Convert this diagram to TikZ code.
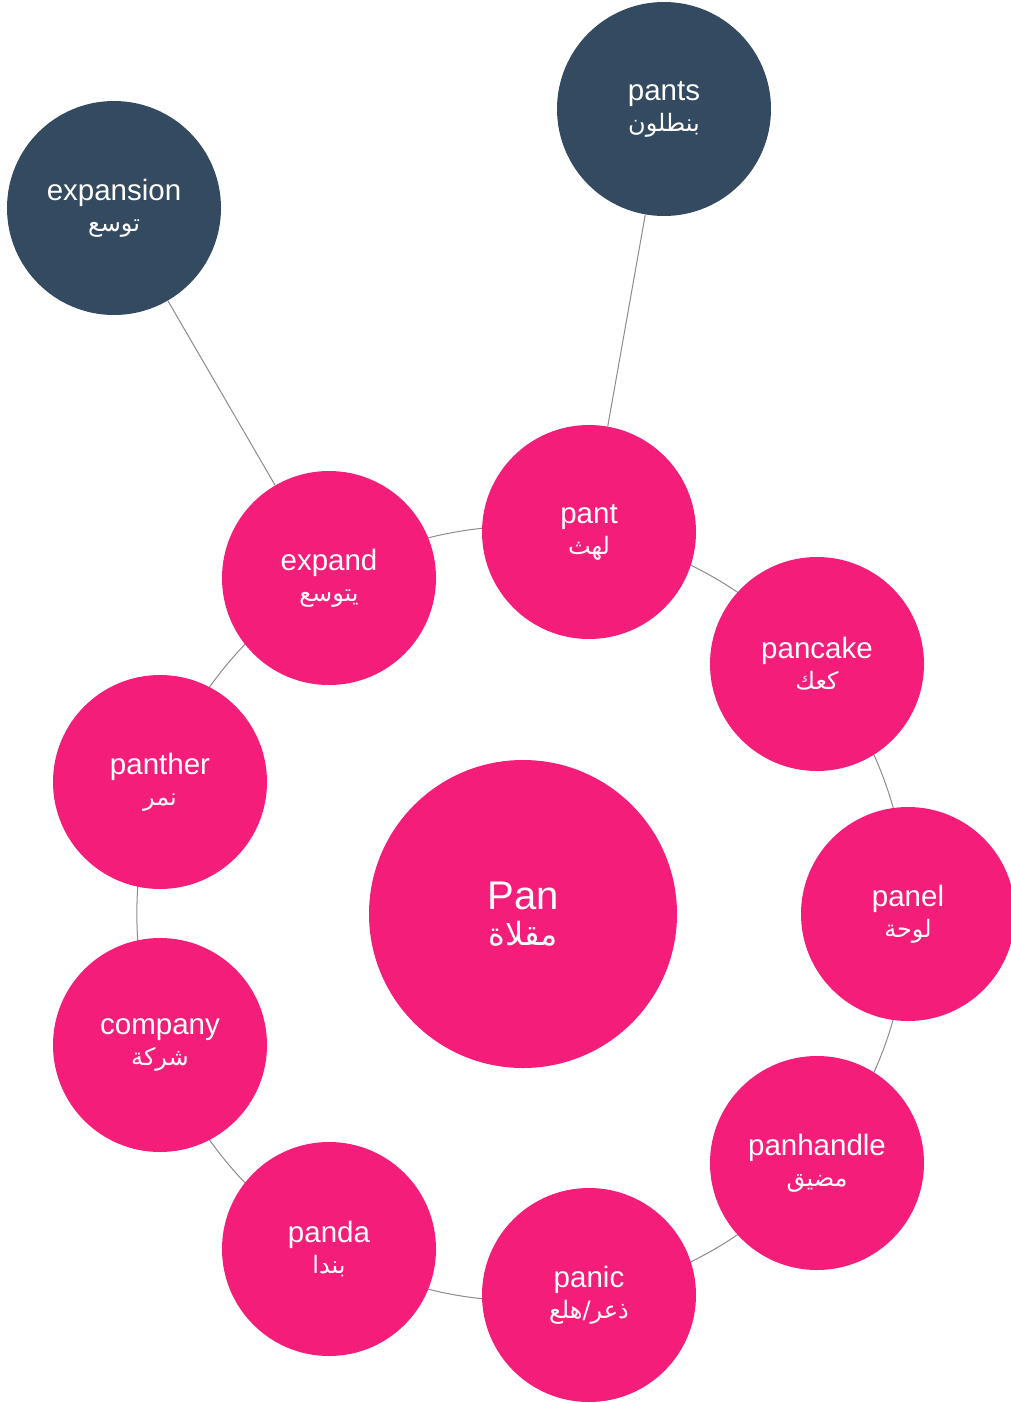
\documentclass[tikz,border=0pt]{standalone}
\usepackage{fontspec}
\usetikzlibrary{backgrounds}
\setmainfont{Liberation Sans}
\newfontfamily\arabicfont[Script=Arabic]{DejaVu Sans}
\TeXXeTstate=1
\definecolor{pinkc}{RGB}{244,30,122}
\definecolor{darkc}{RGB}{52,74,96}
\definecolor{linec}{RGB}{140,140,140}
\tikzset{
  bub/.style={circle, fill=pinkc, text=white, minimum size=214pt, inner sep=0pt, align=center, font=\fontsize{29.5}{31}\selectfont},
  dbub/.style={bub, fill=darkc},
  bigbub/.style={bub, minimum size=308pt, font=\fontsize{40}{36}\selectfont},
  conn/.style={draw=linec, line width=1pt},
  ring/.style={conn, bend left=20, looseness=0.88},
}
\newcommand{\ar}[1]{{\arabicfont\fontsize{24}{31}\selectfont\beginR #1\endR}}
\newcommand{\arbig}[1]{{\arabicfont\fontsize{32}{35}\selectfont\beginR #1\endR}}
\begin{document}
\begin{tikzpicture}[x=1pt,y=-1pt]
\useasboundingbox (0,0) rectangle (1011,1403);
\node[bigbub] (pan) at (523,914) {Pan\\\arbig{مقلاة}};
\node[bub] (pant) at (589,532) {pant\\\ar{لهث}};
\node[bub] (pancake) at (817,664) {pancake\\\ar{كعك}};
\node[bub] (panel) at (908,914) {panel\\\ar{لوحة}};
\node[bub] (panhandle) at (817,1163) {panhandle\\\ar{مضيق}};
\node[bub] (panic) at (589,1295) {panic\\\ar{ذعر/هلع}};
\node[bub] (panda) at (329,1249) {panda\\\ar{بندا}};
\node[bub] (company) at (160,1045) {company\\\ar{شركة}};
\node[bub] (panther) at (160,782) {panther\\\ar{نمر}};
\node[bub] (expand) at (329,578) {expand\\\ar{يتوسع}};
\node[dbub] (expansion) at (114,208) {expansion\\\ar{توسع}};
\node[dbub] (pants) at (664,109) {pants\\\ar{بنطلون}};
\begin{pgfonlayer}{background}
\draw[ring] (pant.center) to (pancake.center);
\draw[ring] (pancake.center) to (panel.center);
\draw[ring] (panel.center) to (panhandle.center);
\draw[ring] (panhandle.center) to (panic.center);
\draw[ring] (panic.center) to (panda.center);
\draw[ring] (panda.center) to (company.center);
\draw[ring] (company.center) to (panther.center);
\draw[ring] (panther.center) to (expand.center);
\draw[ring] (expand.center) to (pant.center);
\end{pgfonlayer}
\draw[conn] (expand) -- (expansion);
\draw[conn] (pant) -- (pants);
\end{tikzpicture}
\end{document}
